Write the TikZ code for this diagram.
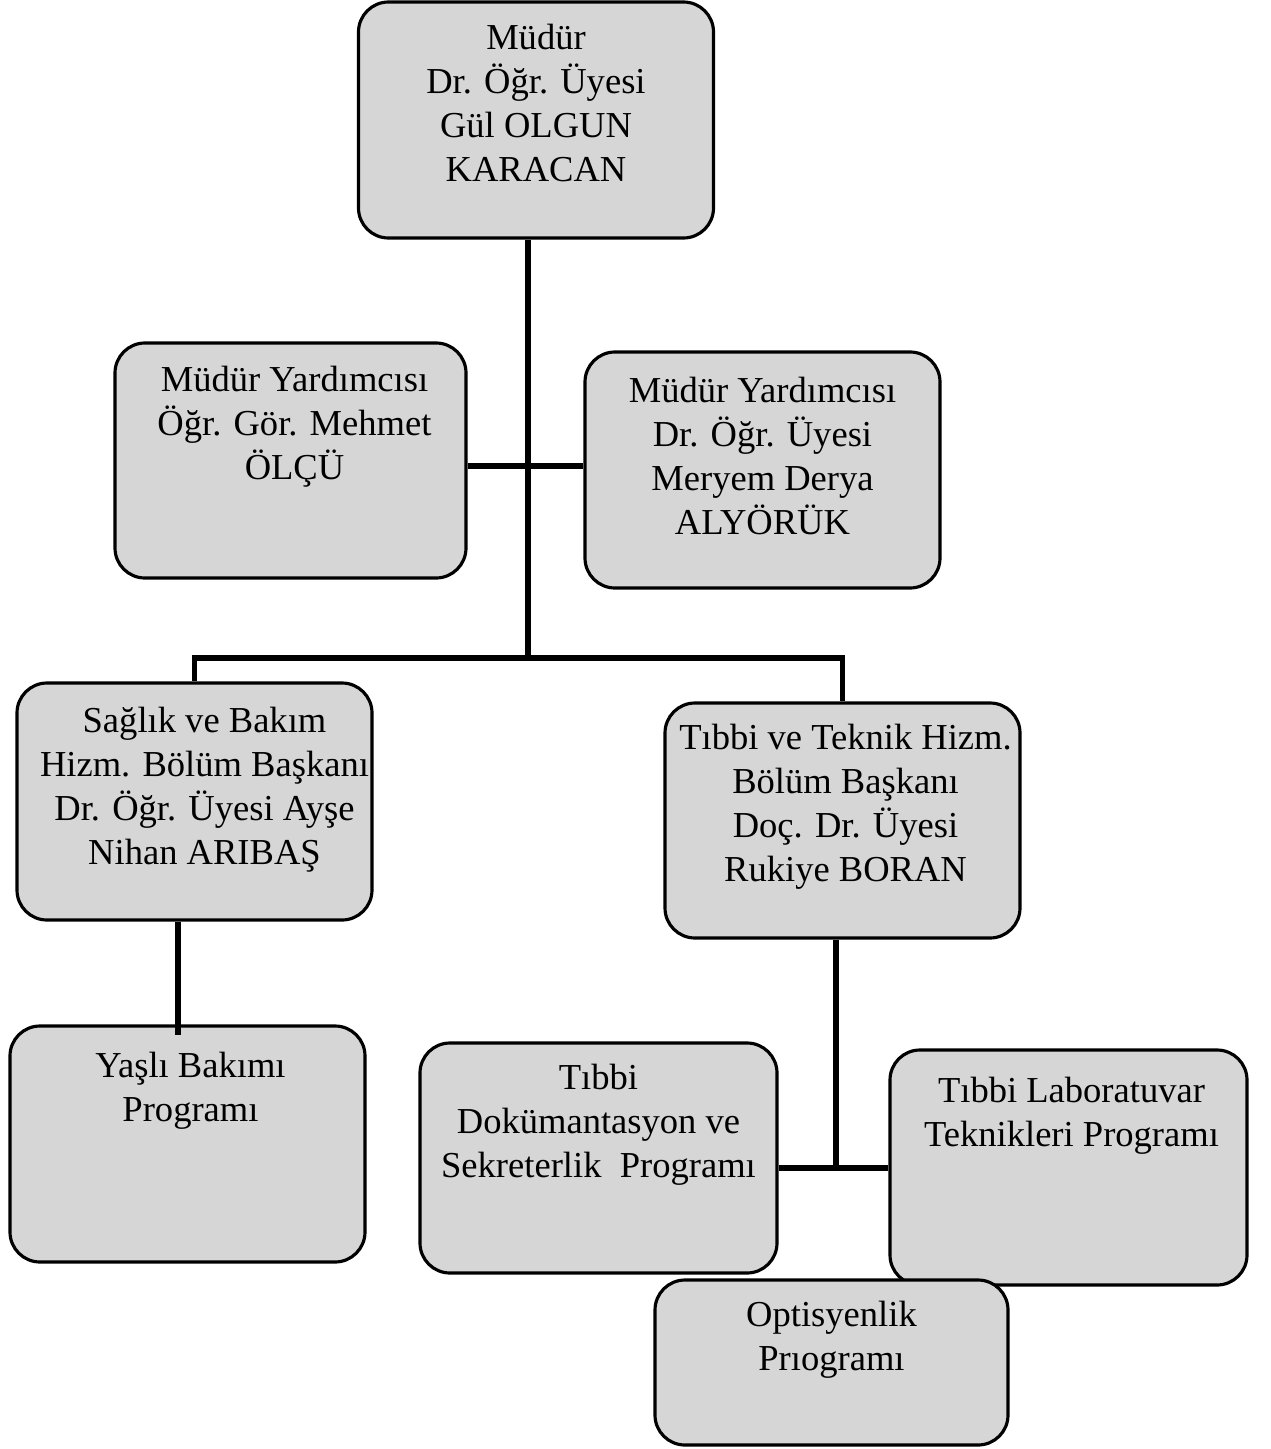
\documentclass[tikz,border=0pt]{standalone}
\usepackage{fontspec}
\setmainfont{Liberation Serif}
\usetikzlibrary{positioning}
\definecolor{boxgray}{RGB}{214,214,214}
\tikzset{
	unit/.style={draw, line width=0.9pt, rounded corners=0.3cm, fill=boxgray, inner sep=0pt, minimum width=3.55cm, minimum height=2.35cm},
	title/.style={align=center, inner sep=0pt, font=\fontsize{10.4}{12.5}\selectfont},
	link/.style={line width=1.6pt}
}
\begin{document}
\begin{tikzpicture}
	\useasboundingbox (0,0) rectangle (12.71,-14.49);
	\node [unit, minimum height=2.36cm] (mudur) at (5.36,-1.20) {};
	\node [unit, minimum width=3.51cm] (yrda) at (2.905,-4.605) {};
	\node [unit, minimum height=2.36cm] (yrdb) at (7.625,-4.70) {};
	\node [unit, minimum height=2.37cm] (saglik) at (1.945,-8.015) {};
	\node [unit] (tibbi) at (8.425,-8.205) {};
	\node [unit, minimum height=2.36cm] (yasli) at (1.875,-11.44) {};
	\node [unit, minimum width=3.57cm, minimum height=2.30cm] (dokuman) at (5.985,-11.58) {};
	\node [unit, minimum width=3.57cm] (lab) at (10.685,-11.675) {};
	\node [unit, minimum width=3.53cm, minimum height=1.65cm] (optik) at (8.315,-13.625) {};

	\node [title, below=0.23cm of mudur.north] (mudur-t) {Müdür\\Dr. Öğr. Üyesi\\Gül OLGUN\\KARACAN};
	\node [title, below=0.24cm of yrda.north, xshift=0.04cm] (yrda-t) {Müdür Yardımcısı\\Öğr. Gör. Mehmet\\ÖLÇÜ};
	\node [title, below=0.26cm of yrdb.north] (yrdb-t) {Müdür Yardımcısı\\Dr. Öğr. Üyesi\\Meryem Derya\\ALYÖRÜK};
	\node [title, below=0.25cm of saglik.north, xshift=0.1cm] (saglik-t) {Sağlık ve Bakım\\Hizm. Bölüm Başkanı\\Dr. Öğr. Üyesi Ayşe\\Nihan ARIBAŞ};
	\node [title, below=0.22cm of tibbi.north, xshift=0.03cm] (tibbi-t) {Tıbbi ve Teknik Hizm.\\Bölüm Başkanı\\Doç. Dr. Üyesi\\Rukiye BORAN};
	\node [title, below=0.27cm of yasli.north, xshift=0.03cm] (yasli-t) {Yaşlı Bakımı\\Programı};
	\node [title, below=0.22cm of dokuman.north] (dokuman-t) {Tıbbi\\Dokümantasyon ve\\Sekreterlik~~Programı};
	\node [title, below=0.28cm of lab.north, xshift=0.03cm] (lab-t) {Tıbbi Laboratuvar\\Teknikleri Programı};
	\node [title, below=0.22cm of optik.north] (optik-t) {Optisyenlik\\Prıogramı};

	\coordinate (jyrd) at (5.29,-4.66);
	\coordinate (jbar) at (5.28,-6.58);
	\coordinate (jyas) at (1.78,-10.35);
	\coordinate (jprog) at (8.36,-11.68);
	\draw [link] (mudur.south -| jbar) -- (jbar);
	\draw [link] (yrda.east |- jyrd) -- (yrdb.west |- jyrd);
	\draw [link] (saglik.north) |- (jbar) -| (tibbi.north);
	\draw [link] (saglik.south -| jyas) -- (jyas);
	\draw [link] (tibbi.south -| jprog) -- (jprog);
	\draw [link] (dokuman.east |- jprog) -- (lab.west |- jprog);
\end{tikzpicture}
\end{document}
